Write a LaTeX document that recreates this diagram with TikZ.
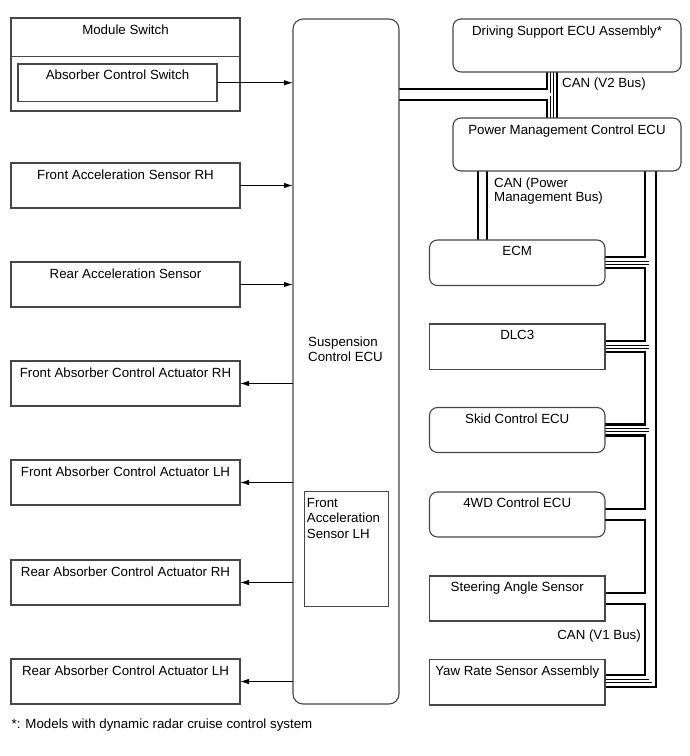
\documentclass[tikz,border=0pt]{standalone}
\usepackage{fontspec}
\setmainfont{Liberation Sans}
\usetikzlibrary{arrows.meta,calc,backgrounds}
\begin{document}
\begin{tikzpicture}[x=1pt,y=-1pt,
  font=\fontsize{13.3}{15}\selectfont,
  bx/.style n args={2}{draw=black!72, line width=1.1pt, anchor=north west, inner sep=0pt, outer sep=0pt, minimum width=#1, minimum height=#2},
  rnd/.style={rounded corners=8pt},
  lab/.style={anchor=north, inner sep=0pt, yshift=-#1},
  lab/.default=7pt,
  arr/.style={draw=black, line width=1pt, -{Latex[length=9pt,width=5.5pt]}},
  thk/.style={draw=black, line width=2.2pt},
  dblout/.style={draw=black, line width=3.6pt},
  dblin/.style={draw=white, line width=2.4pt},
  txt/.style={anchor=north west, inner sep=0pt, align=left}
]
\useasboundingbox (0,0) rectangle (690,756);

% left column
\node[bx={229pt}{93pt}, label={[lab]north:Module Switch}] (ms) at (11,18) {};
\draw[draw=black!72, line width=1.1pt] (ms.west |- 0,56.5) -- (ms.east |- 0,56.5);
\node[bx={199pt}{37.5pt}, label={[lab=6pt]north:Absorber Control Switch}] (acs) at (18,64) {};
\node[bx={229pt}{45pt}, label={[lab]north:Front Acceleration Sensor RH}] (fasrh) at (11,163) {};
\node[bx={229pt}{45pt}, label={[lab]north:Rear Acceleration Sensor}] (ras) at (11,262) {};
\node[bx={229pt}{45pt}, label={[lab]north:Front Absorber Control Actuator RH}] (farh) at (11,361) {};
\node[bx={229pt}{45pt}, label={[lab]north:Front Absorber Control Actuator LH}] (falh) at (11,460) {};
\node[bx={229pt}{45pt}, label={[lab]north:Rear Absorber Control Actuator RH}] (rarh) at (11,560) {};
\node[bx={229pt}{45pt}, label={[lab]north:Rear Absorber Control Actuator LH}] (ralh) at (11,659) {};

% ECU
\node[bx={106pt}{685pt}, rounded corners=10pt] (ecu) at (293,19) {};
\node[txt] (ecut) at (308,336.5) {Suspension\\Control ECU};
\node[bx={84pt}{115pt}, label={[anchor=north west, inner sep=0pt, align=left, xshift=2.2pt, yshift=-6.5pt, font=\fontsize{13.3}{15.5}\selectfont]north west:Front\\Acceleration\\Sensor LH}] (fasl) at (304.5,491.5) {};

% right column
\node[bx={228pt}{53pt}, rnd, label={[lab=6.7pt]north:Driving Support ECU Assembly*}] (ds) at (453,19) {};
\node[bx={228pt}{53pt}, rnd, label={[lab=6.7pt]north:Power Management Control ECU}] (pmc) at (453,118) {};
\node[bx={175.5pt}{45.5pt}, rnd, label={[lab=6.5pt]north:ECM}] (ecm) at (429.5,240) {};
\node[bx={175.5pt}{45.5pt}, label={[lab=6.5pt]north:DLC3}] (dlc) at (429.5,324) {};
\node[bx={175.5pt}{45pt}, rnd, label={[lab=6pt]north:Skid Control ECU}] (skid) at (429.5,407.5) {};
\node[bx={175.5pt}{45pt}, rnd, label={[lab=6pt]north:4WD Control ECU}] (fwd) at (429.5,492) {};
\node[bx={175.5pt}{45pt}, label={[lab=6pt]north:Steering Angle Sensor}] (sas) at (429.5,576) {};
\node[bx={175.5pt}{45.5pt}, label={[lab=6pt]north:Yaw Rate Sensor Assembly}] (yaw) at (429.5,659.5) {};

% arrows
\draw[arr] (acs.east) -- (ecu.west |- acs.east);
\draw[arr] (fasrh.east) -- (ecu.west |- fasrh.east);
\draw[arr] (ras.east) -- (ecu.west |- ras.east);
\foreach \n in {farh,falh,rarh,ralh} \draw[arr] (ecu.west |- \n.east) -- (\n.east);

% buses
\begin{pgfonlayer}{background}
\draw[thk] (ecu.east |- 0,89) -| (ds.south -| 547,0);
\draw[thk] (ecu.east |- 0,100) -| (pmc.north -| 547,0);
\draw[thk] (ds.south -| 557,0) -- (pmc.north -| 557,0);
\draw[thk] (pmc.south -| 478,0) -- (ecm.north -| 478,0);
\draw[thk] (pmc.south -| 487,0) -- (ecm.north -| 487,0);
\draw[thk] (pmc.south -| 645,0) |- ([yshift=5.5pt]ecm.east);
\draw[thk] ([yshift=-5.5pt]ecm.east) -- ++(40,0) |- ([yshift=5.5pt]dlc.east);
\draw[thk] ([yshift=-5.5pt]dlc.east) -- ++(40,0) |- ([yshift=5.5pt]skid.east);
\draw[thk] ([yshift=-5.5pt]skid.east) -- ++(40,0) |- ([yshift=5.5pt]fwd.east);
\draw[thk] ([yshift=-5.5pt]fwd.east) -- ++(40,0) |- ([yshift=5.5pt]sas.east);
\draw[thk] ([yshift=-5.5pt]sas.east) -- ++(40,0) |- ([yshift=7pt]yaw.east);
\draw[thk] (pmc.south -| 656,0) |- ([yshift=-5pt]yaw.east);
\foreach \s in {dblout,dblin}{
  \draw[\s] (ecu.east |- 0,94.5) -- (552,94.5);
  \draw[\s] (ds.south -| 552,0) -- (pmc.north -| 552,0);
  \draw[\s] (pmc.south -| 482.5,0) -- (ecm.north -| 482.5,0);
  \draw[\s] (pmc.south -| 650.5,0) |- ([yshift=1pt]yaw.east);
  \foreach \b in {ecm,dlc,skid,fwd,sas} \draw[\s] (\b.east) -- ++(45.5,0);
}
\end{pgfonlayer}

% labels
\node[txt] (v2) at (562,78) {CAN (V2 Bus)};
\node[txt, font=\fontsize{13.3}{13.5}\selectfont] (pmb) at (494,178) {CAN (Power\\Management Bus)};
\node[txt, anchor=north east] (v1) at (641,630) {CAN (V1 Bus)};
\node[txt] (note) at (11.5,718.5) {*: Models with dynamic radar cruise control system};
\end{tikzpicture}
\end{document}
